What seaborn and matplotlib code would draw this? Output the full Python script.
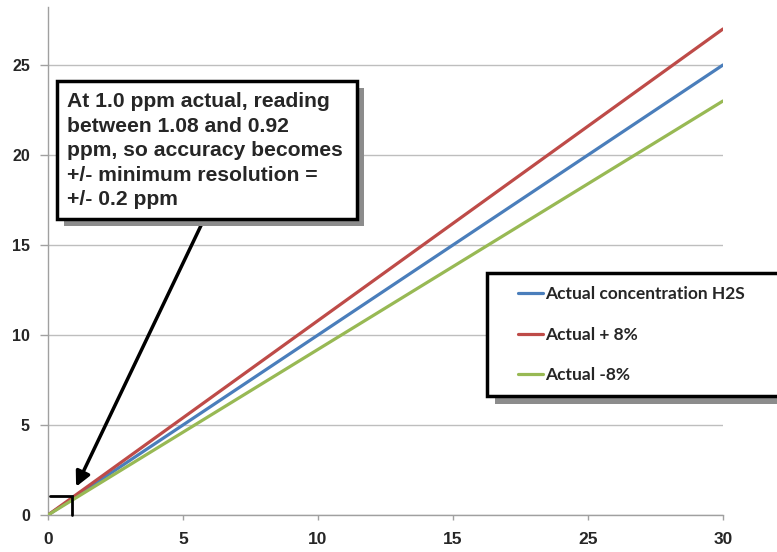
import matplotlib
matplotlib.use("Agg")
import matplotlib.pyplot as plt
from matplotlib.patches import Rectangle
import seaborn as sns
import pandas as pd

# ---- data ----
x_vals = [0, 25]
actual = [0, 25]
actual_plus8 = [0, 27]
actual_minus8 = [0, 23]
series_names = ["Actual concentration H2S", "Actual + 8%", "Actual -8%"]
colors = ["#4A7EBB", "#BE4B48", "#98B954"]
x_tick_pos = [0, 5, 10, 15, 20, 25]
x_tick_labels = ["0", "5", "10", "15", "25", "30"]
y_ticks = [0, 5, 10, 15, 20, 25]
bracket_x = [0.07, 0.88, 0.88]
bracket_y = [1.07, 1.07, 0.0]
arrow_tip = (1.04, 1.57)
arrow_tail = (5.8, 16.5)
note = ("At 1.0 ppm actual, reading\nbetween 1.08 and 0.92\n"
        "ppm, so accuracy becomes\n+/- minimum resolution =\n+/- 0.2 ppm")

df = pd.DataFrame({
    "x": x_vals * 3,
    "y": actual + actual_plus8 + actual_minus8,
    "series": [series_names[0]] * len(x_vals) + [series_names[1]] * len(x_vals)
              + [series_names[2]] * len(x_vals),
})

sns.set_style("white")
W, H = 777, 552
fig = plt.figure(figsize=(W / 100, H / 100), dpi=100)

def fx(px):
    return px / W

def fy(py):
    return 1 - py / H

ax = fig.add_axes([fx(48), fy(515), fx(723) - fx(48), fy(7) - fy(515)])

sns.lineplot(data=df, x="x", y="y", hue="series", hue_order=series_names,
             palette=colors, linewidth=2.3, ax=ax, legend=False, zorder=3)

ax.set_xlim(0, 25)
ax.set_ylim(0, 28.22)
ax.set_xticks(x_tick_pos)
ax.set_xticklabels(x_tick_labels)
ax.set_yticks(y_ticks)
ax.set_xlabel("")
ax.set_ylabel("")
ax.grid(axis="y", color="#BEBEBE", linewidth=1.0)
ax.grid(axis="x", visible=False)
for s in ["top", "right"]:
    ax.spines[s].set_visible(False)
for s in ["left", "bottom"]:
    ax.spines[s].set_color("#A0A0A0")
    ax.spines[s].set_linewidth(1.0)
ax.tick_params(axis="y", direction="out", length=6, width=1, color="#A0A0A0",
               left=True, pad=7)
ax.tick_params(axis="x", direction="out", length=3.5, width=1, color="#A0A0A0",
               bottom=True, pad=9)
for lab in ax.get_xticklabels():
    lab.set_fontfamily("Liberation Sans")
    lab.set_fontweight("bold")
    lab.set_fontsize(12.5)
for lab in ax.get_yticklabels():
    lab.set_fontfamily("Liberation Sans")
    lab.set_fontweight("bold")
    lab.set_fontsize(11.5)

# bracket at 1.0 ppm
ax.plot(bracket_x, bracket_y, color="black", linewidth=2.0, zorder=4,
        solid_joinstyle="miter", clip_on=False)

# arrow from note box to the 1 ppm point
ax.annotate("", xy=arrow_tip, xytext=arrow_tail,
            arrowprops=dict(arrowstyle="-|>", color="black", lw=2.5,
                            mutation_scale=22, shrinkA=0, shrinkB=0),
            zorder=4)

# note box with shadow
bx0, by0, bx1, by1 = 57, 81, 357, 219
sh = 7
fig.add_artist(Rectangle((fx(bx0 + sh), fy(by1 + sh)), fx(bx1 - bx0), (by1 - by0) / H,
                         transform=fig.transFigure, facecolor="#8C8C8C",
                         edgecolor="none", zorder=1))
fig.add_artist(Rectangle((fx(bx0), fy(by1)), fx(bx1 - bx0), (by1 - by0) / H,
                         transform=fig.transFigure, facecolor="white",
                         edgecolor="black", linewidth=2.5, zorder=2))
fig.text(fx(67), fy(92), note, ha="left", va="top", fontsize=15.2,
         fontweight="bold", family="Liberation Sans", linespacing=1.37, zorder=3)

# legend box with shadow
lx0, ly0, lx1, ly1 = 487, 273, 800, 396
fig.add_artist(Rectangle((fx(lx0 + 8), fy(ly1 + 8)), fx(lx1 - lx0), (ly1 - ly0) / H,
                         transform=fig.transFigure, facecolor="#8C8C8C",
                         edgecolor="none", zorder=1))
fig.add_artist(Rectangle((fx(lx0), fy(ly1)), fx(lx1 - lx0), (ly1 - ly0) / H,
                         transform=fig.transFigure, facecolor="white",
                         edgecolor="black", linewidth=2.5, zorder=2))
handles = ax.get_lines()[:3]
leg = fig.legend(handles, series_names, loc="upper left",
                 bbox_to_anchor=(fx(518), fy(286)),
                 bbox_transform=fig.transFigure,
                 frameon=False,
                 prop={"family": "Lato", "weight": "bold", "size": 12.5},
                 handlelength=1.45, handletextpad=0.12, labelspacing=1.42,
                 borderpad=0, borderaxespad=0)
leg.set_zorder(5)

fig.savefig("out.png", dpi=100)
